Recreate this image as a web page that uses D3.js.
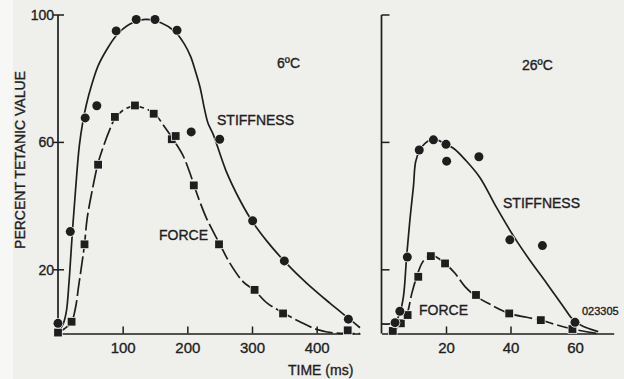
<!DOCTYPE html>
<html>
<head>
<meta charset="utf-8">
<script src="https://cdn.jsdelivr.net/npm/d3@7"></script>
<style>
  html, body { margin: 0; padding: 0; background: #efefec; }
  svg { display: block; }
  text { font-family: "Liberation Sans", Arial, Helvetica, sans-serif; fill: #1e1e1e; stroke: #1e1e1e; stroke-width: 0.35px; }
</style>
</head>
<body>
<svg id="chart" width="624" height="379"></svg>
<script>
// ---------------- DATA ----------------
// Y axis (percent tetanic value)
const yTicks = [20, 60, 100];
// Left panel: 6ºC, time in ms
const coldXTicks = [100, 200, 300, 400];
const coldStiffT = [0, 19, 42, 60, 90, 121, 150, 184, 206, 250, 301, 350, 449];
const coldStiffV = [3.2, 32, 67.7, 71.5, 95, 98.6, 98.6, 95.2, 63.3, 61, 35.4, 22.8, 4.5];
const coldForceT = [0, 21, 41, 62, 88, 119, 148, 176, 182, 210, 249, 304, 348, 448];
const coldForceV = [0.3, 3.7, 28, 53, 68, 71.6, 69, 61, 62, 46.5, 28, 13.7, 6.3, 1];
// fitted curves
const coldStiffCurveT = [0, 8, 13, 17, 20, 23, 26, 29, 33, 38, 44, 52, 62, 75, 90, 110, 135, 160, 181, 195, 205, 213, 220, 226, 232, 240, 260, 281, 301, 323, 351, 384, 420, 451, 467];
const coldStiffCurveV = [0.5, 3, 7, 16, 25, 34, 42, 50, 59, 66, 72, 78, 84, 89, 93.5, 97, 98.6, 97.5, 94.8, 91, 87, 82, 77, 71, 66, 62.5, 51, 42, 35, 29, 22.5, 15.9, 9.6, 4.5, 1.8];
const coldForceCurveT = [0, 10, 21, 27, 32, 37, 41, 45, 52, 62, 70, 80, 88, 100, 117, 133, 150, 165, 178, 193, 204, 212, 220, 230, 240, 250, 266, 286, 304, 323, 348, 374, 400, 425, 451, 467];
const coldForceCurveV = [0.3, 1.5, 3.7, 8, 15, 22, 28, 36, 44, 53.5, 58.6, 64, 67.5, 70, 71.4, 70.8, 68.9, 64.8, 61, 56, 50.4, 45.5, 41, 36, 32, 28.1, 22, 16.3, 13.5, 9.6, 6.5, 3.7, 1.3, 0.2, 0, 0];

// Right panel: 26ºC, time in ms
const warmXTicks = [20, 40, 60];
const warmStiffT = [4.2, 5.7, 8, 11.7, 16.1, 20, 20.2, 30.2, 39.8, 49.9, 60];
const warmStiffV = [3.4, 7, 24, 57.6, 60.8, 59.4, 54.1, 55.5, 29.4, 27.6, 3.5];
const warmForceT = [3.5, 6, 8.1, 11.4, 15.3, 19.7, 29.3, 39.6, 49.4, 59.2];
const warmForceV = [0.8, 3.2, 5.8, 17.8, 24.3, 22, 12.1, 6.3, 4.2, 1.4];
const warmStiffCurveT = [0, 2.5, 4.2, 5.7, 6.8, 7.8, 8.8, 9.9, 10.6, 11.9, 13.5, 16.1, 19.7, 22.5, 26, 30.5, 35.7, 41, 46, 51.2, 56.4, 59.5, 62.6, 67.2];
const warmStiffCurveV = [3, 3, 3.4, 6.5, 11.6, 24.3, 35.6, 46.1, 54, 57.6, 59.7, 61, 59.6, 58, 54.5, 49, 39.5, 30.5, 23, 15.8, 8.4, 4.2, 2.2, 0.6];
const warmForceCurveT = [2, 4, 6, 7.8, 9.4, 10.9, 12.5, 14, 15.6, 17.6, 19.7, 22.8, 25.9, 29, 33.6, 39.6, 45, 49.4, 54.3, 59.2, 66.8];
const warmForceCurveV = [0.2, 1, 3.2, 5.8, 12.6, 17.8, 22, 24, 24.6, 23.6, 22, 18.9, 14.7, 11.9, 9.2, 6.3, 5.1, 4.2, 2.7, 1.4, 0];

// ---------------- DRAWING ----------------
const svg = d3.select("#chart");
const bg = "#efefec";
const ink = "#1e1e1e";
svg.append("rect").attr("width", 624).attr("height", 379).attr("fill", bg);
svg.append("rect").attr("width", 13).attr("height", 379).attr("fill", "#f7f7f5");

const y = d3.scaleLinear().domain([0, 100]).range([333.5, 15]);
const xCold = d3.scaleLinear().domain([0, 467]).range([58, 360]);
const xWarm = d3.scaleLinear().domain([0, 72]).range([381.5, 613.7]);

function zip(t, v) { return t.map((d, i) => [d, v[i]]); }

function panel(x, xTicks, yTickInner, yTickOuter, stiffT, stiffV, forceT, forceV, sCurveT, sCurveV, fCurveT, fCurveV) {
  const g = svg.append("g");
  // x axis
  const xAxis = d3.axisBottom(x).tickValues(xTicks).tickSizeInner(-7).tickSizeOuter(0).tickPadding(10);
  const gx = g.append("g").attr("transform", `translate(0,${y(0)})`).call(xAxis);
  gx.select(".domain").attr("stroke", ink).attr("stroke-width", 1.7);
  gx.selectAll(".tick line").attr("stroke", ink).attr("stroke-width", 1.5);
  gx.selectAll(".tick text").attr("font-size", 15).attr("font-family", "Liberation Sans, Arial, sans-serif").attr("fill", ink).attr("dy", "0.6em");
  // y axis
  const gy = g.append("g").attr("transform", `translate(${x(0)},0)`);
  gy.append("line").attr("x1", 0).attr("x2", 0).attr("y1", y(100)).attr("y2", y(0)).attr("stroke", ink).attr("stroke-width", 1.7);
  gy.selectAll("line.t").data(yTicks).join("line").attr("class", "t")
    .attr("x1", -yTickOuter).attr("x2", yTickInner).attr("y1", d => y(d)).attr("y2", d => y(d))
    .attr("stroke", ink).attr("stroke-width", 1.5);

  const line = d3.line().x(d => x(d[0])).y(d => y(d[1])).curve(d3.curveCatmullRom.alpha(0.5));
  g.append("path").datum(zip(sCurveT, sCurveV)).attr("d", line)
    .attr("fill", "none").attr("stroke", ink).attr("stroke-width", 1.7);
  g.append("path").datum(zip(fCurveT, fCurveV)).attr("d", line)
    .attr("fill", "none").attr("stroke", ink).attr("stroke-width", 1.7).attr("stroke-dasharray", "18,4");

  const s = 7.8;
  g.selectAll("rect.f").data(zip(forceT, forceV)).join("rect").attr("class", "f")
    .attr("x", d => x(d[0]) - s / 2).attr("y", d => y(d[1]) - s / 2).attr("width", s).attr("height", s)
    .attr("fill", ink).attr("stroke", bg).attr("stroke-width", 1.6).attr("paint-order", "stroke");
  g.selectAll("circle.s").data(zip(stiffT, stiffV)).join("circle").attr("class", "s")
    .attr("cx", d => x(d[0])).attr("cy", d => y(d[1])).attr("r", 4.5)
    .attr("fill", ink).attr("stroke", bg).attr("stroke-width", 1.6).attr("paint-order", "stroke");
  return g;
}

panel(xCold, coldXTicks, 6, 5, coldStiffT, coldStiffV, coldForceT, coldForceV,
      coldStiffCurveT, coldStiffCurveV, coldForceCurveT, coldForceCurveV);
panel(xWarm, warmXTicks, 8, 0, warmStiffT, warmStiffV, warmForceT, warmForceV,
      warmStiffCurveT, warmStiffCurveV, warmForceCurveT, warmForceCurveV);

// y tick labels (left panel only)
svg.selectAll("text.yl").data(yTicks).join("text").attr("class", "yl")
  .attr("x", 54).attr("y", d => y(d) + 5).attr("text-anchor", "end").attr("font-size", 14).text(d => d);

// annotations
function label(txt, x, yy, size, anchor) {
  svg.append("text").attr("x", x).attr("y", yy).attr("font-size", size)
    .attr("text-anchor", anchor || "start").text(txt);
}
label("6ºC", 277, 68, 14);
label("STIFFNESS", 217, 125, 14);
label("FORCE", 159, 240, 14);
label("26ºC", 522, 70, 14);
label("STIFFNESS", 503, 208, 14);
label("FORCE", 419, 315, 14);
label("023305", 582, 315, 11);
label("TIME (ms)", 288, 375, 14);
svg.append("text").attr("transform", "translate(25,160) rotate(-90)")
  .attr("text-anchor", "middle").attr("font-size", 14).text("PERCENT TETANIC VALUE");
</script>
</body>
</html>
